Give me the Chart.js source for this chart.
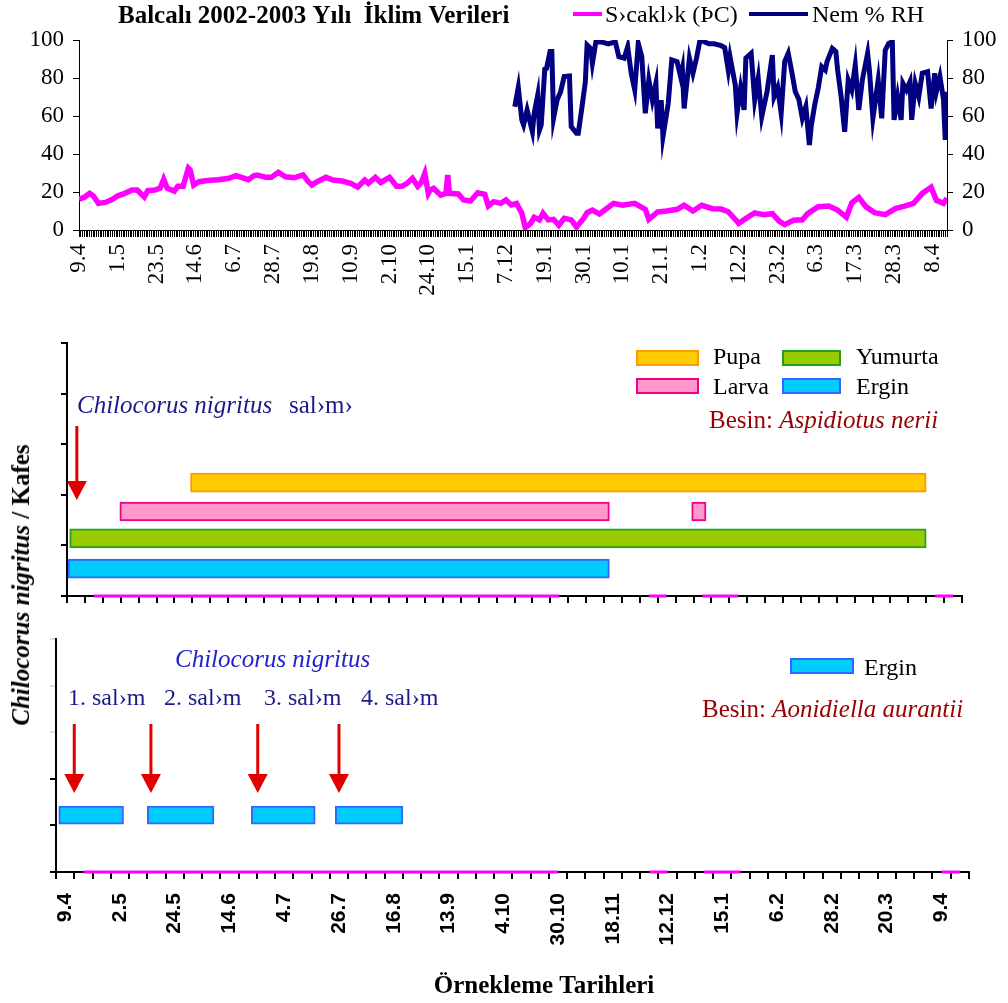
<!DOCTYPE html>
<html>
<head>
<meta charset="utf-8">
<script src="https://cdn.jsdelivr.net/npm/chart.js@4.4.1/dist/chart.umd.min.js"></script>
<style>
  html, body { margin: 0; padding: 0; background: #fff; }
  #page { position: relative; width: 1008px; height: 1003px; overflow: hidden; }
  canvas { position: absolute; left: 0; }
  #climate { top: 0; }
  #nerii { top: 320px; }
  #aurantii { top: 610px; }
  #yTitle {
    position: absolute; left: 21px; top: 585px;
    transform: translate(-50%, -50%) rotate(-90deg);
    font: bold 25px 'Liberation Serif'; white-space: nowrap; color: #000;
  }
</style>
</head>
<body>
<div id="page">
  <canvas id="climate" width="1008" height="300"></canvas>
  <canvas id="nerii" width="1008" height="290"></canvas>
  <canvas id="aurantii" width="1008" height="393"></canvas>
  <div id="yTitle"><i>Chilocorus nigritus</i> / Kafes</div>
</div>
<script>
// iklim verileri: gün sırası 9.4.2002'den itibaren
const climateLabels = ['9.4', '1.5', '23.5', '14.6', '6.7', '28.7', '19.8', '10.9', '2.10', '24.10', '15.1',
  '7.12', '19.1', '30.1', '10.1', '21.1', '1.2', '12.2', '23.2', '6.3', '17.3', '28.3', '8.4']
const labelEvery = 22
const lastDay = 492

const tempDays = [0, 3, 6, 8, 11, 15, 19, 22, 26, 30, 33, 37, 39, 43, 46, 48, 50, 54, 56, 59, 62, 63, 65, 68, 73,
  79, 85, 89, 92, 96, 99, 101, 106, 109, 113, 117, 122, 127, 130, 132, 135, 140, 144, 149, 154, 158, 162, 164,
  168, 171, 176, 180, 183, 186, 189, 192, 194, 196, 198, 199, 201, 205, 208, 209, 210, 215, 218, 222, 226, 230,
  232, 235, 239, 242, 245, 248, 251, 253, 256, 258, 261, 263, 266, 269, 272, 275, 279, 282, 286, 288, 291, 295,
  298, 303, 308, 315, 321, 323, 328, 333, 339, 343, 348, 353, 359, 364, 368, 374, 379, 383, 388, 393, 397, 400,
  405, 410, 413, 419, 425, 430, 435, 438, 442, 446, 451, 457, 463, 468, 473, 478, 483, 486, 490, 492]
const tempValues = [16.2, 17.2, 19.3, 18, 14, 14.5, 16.2, 18, 19.3, 21, 21, 17.4, 20.7, 21, 22, 26.7, 22, 20.5, 23,
  23, 32.5, 31.6, 23.6, 25.4, 26, 26.5, 27.2, 28.6, 27.7, 26.5, 28.5, 28.9, 27.7, 27.7, 30.4, 28, 27.5, 29, 25.4,
  23.7, 25.4, 27.7, 26.3, 25.8, 24.6, 22.6, 26.3, 24.6, 27.7, 25, 27.7, 23, 23, 24.6, 27.2, 23, 25, 29.8, 19.3,
  21, 21.9, 18.4, 19.3, 29, 19.3, 19, 15.8, 15.3, 19.6, 18.8, 12.6, 14.9, 14, 15.8, 13.2, 14, 8.8, 1.2, 3.5, 6.7,
  5.3, 8.8, 5.3, 5.6, 2.5, 6.1, 5.3, 1.6, 6.1, 9.1, 10.5, 8.4, 10.5, 14, 13, 14, 10.9, 5.6, 9.5, 10, 10.9, 13, 10,
  13, 11.2, 11, 9.6, 3.5, 6.7, 9, 8.1, 8.6, 4.6, 2.8, 5.1, 5.4, 8.6, 12.3, 12.6, 10.5, 6.7, 14.2, 17.2, 12.3, 9.1,
  8.1, 11.4, 12.6, 14, 19.3, 22.5, 15.6, 14, 16.7]

const humDays = [247, 249, 251, 252, 254, 257, 258, 260, 261, 262, 264, 265, 267, 268, 269, 271, 273, 275, 278,
  279, 282, 283, 285, 287, 288, 290, 291, 293, 296, 300, 304, 306, 309, 311, 313, 315, 317, 319, 321, 323, 325,
  327, 328, 330, 331, 334, 336, 339, 341, 342, 343, 346, 348, 350, 352, 357, 360, 364, 366, 368, 369, 372, 373,
  375, 377, 378, 381, 383, 385, 387, 390, 393, 394, 396, 398, 400, 402, 404, 406, 408, 410, 412, 414, 415, 417,
  419, 421, 423, 424, 427, 429, 430, 432, 434, 436, 438, 440, 442, 444, 447, 448, 450, 453, 455, 457, 459, 461,
  462, 464, 466, 467, 469, 471, 472, 474, 476, 478, 481, 483, 485, 486, 488, 490, 491, 492]
const humValues = [64.9, 75.1, 57.9, 55.3, 63.2, 51.7, 61.4, 71, 52.6, 55.3, 84.6, 85, 93.9, 93.9, 58.8, 68.4,
  72.8, 80.7, 81, 54.4, 50.9, 50.9, 64, 78, 97.4, 95.6, 87.7, 99.1, 99, 98, 99, 91.2, 90.4, 96.5, 82.5, 73.7,
  98.2, 91.2, 61.4, 78.9, 68.4, 77.2, 53.5, 68.4, 49.1, 66.7, 89.5, 88.6, 80.7, 85, 64, 90.4, 82.5, 90.4, 100, 98,
  98, 97, 96, 84.2, 91.2, 76.3, 61.4, 74.6, 63.2, 90.4, 93, 68.4, 79.8, 59.6, 72.8, 92.1, 70.2, 75, 61.4, 88.6,
  93, 83.3, 72.8, 68.8, 58.8, 64.9, 44.7, 54.4, 65.8, 74.6, 86, 84.2, 88.6, 95.6, 94, 84.2, 70.2, 51.7, 78.9,
  73.7, 86.8, 63.2, 78.9, 93, 84.2, 58.8, 78.9, 58.8, 94.7, 98.2, 99.1, 57.9, 70.2, 58, 77.2, 73.7, 78, 58, 77.2,
  70.2, 82.5, 83.3, 64, 82.5, 72.8, 80.7, 68.8, 47.4, 72.8]

// kafes gözlemleri: 50 örnekleme tarihi
const sampleLabels = ['9.4', '2.5', '24.5', '14.6', '4.7', '26.7', '16.8', '13.9', '4.10', '30.10', '18.11',
  '12.12', '15.1', '6.2', '28.2', '20.3', '9.4']
const sampleCount = 50
const sampleRecorded = [null,
  0, 0, 0, 0, 0, 0, 0, 0, 0, 0, 0, 0, 0, 0, 0, 0, 0, 0, 0, 0, 0, 0, 0, 0, 0, 0, 0,
  null, null, null, null, 0, 0, null, 0, 0, 0,
  null, null, null, null, null, null, null, null, null, null, 0, 0]

const stageNames = ['Pupa', 'Larva', 'Yumurta', 'Ergin']
const stageLevels = [2.24, 1.67, 1.14, 0.54]
const neriiPeriods = [
  [[6.9, 48]],
  [[2.95, 30.3], [34.9, 35.7]],
  [[0.15, 48]],
  [[0, 30.3]],
]
const neriiRelease = 0.55

const aurantiiLevel = 1.22
const aurantiiErgin = [[0.15, 3.7], [5, 8.65], [10.7, 14.2], [15.3, 19]]
const aurantiiReleases = [1, 5.2, 11.05, 15.5]

const serif = 'Liberation Serif'
const stageColors = [
  { fill: '#FFCC00', line: '#FF9900' },
  { fill: '#FF99CC', line: '#EE0088' },
  { fill: '#99CC00', line: '#22A022' },
  { fill: '#00CCFF', line: '#3366FF' },
]

Chart.defaults.font.family = serif
Chart.defaults.color = '#000'

function drawArrow(ctx, x, top, tip) {
  ctx.strokeStyle = '#E00000'
  ctx.fillStyle = '#E00000'
  ctx.lineWidth = 3
  ctx.beginPath()
  ctx.moveTo(x, top)
  ctx.lineTo(x, tip - 18)
  ctx.stroke()
  ctx.beginPath()
  ctx.moveTo(x - 10, tip - 19)
  ctx.lineTo(x + 10, tip - 19)
  ctx.lineTo(x, tip)
  ctx.closePath()
  ctx.fill()
}

function drawBox(ctx, x, y, w, h, color) {
  ctx.fillStyle = color.fill
  ctx.fillRect(x, y, w, h)
  ctx.strokeStyle = color.line
  ctx.lineWidth = 2
  ctx.strokeRect(x, y, w, h)
}

function drawBesin(ctx, x, y, species) {
  ctx.fillStyle = '#990000'
  ctx.font = `25px "${serif}"`
  ctx.fillText('Besin: ', x, y)
  const w = ctx.measureText('Besin: ').width
  ctx.font = `italic 25px "${serif}"`
  ctx.fillText(species, x + w, y)
}

const toPoints = (days, values) => days.map((d, i) => ({ x: d, y: values[i] }))

// ---- iklim grafiği ----
const climateHeader = {
  id: 'climateHeader',
  afterDraw(chart) {
    const ctx = chart.ctx
    ctx.save()
    ctx.fillStyle = '#000'
    ctx.font = `bold 25px "${serif}"`
    ctx.fillText('Balcalı 2002-2003 Yılı  İklim Verileri', 118, 23)
    const keys = [[573, 602, 605], [749, 808, 812]]
    chart.data.datasets.forEach((ds, i) => {
      const [x0, x1, tx] = keys[i]
      ctx.strokeStyle = ds.borderColor
      ctx.lineWidth = 4
      ctx.beginPath()
      ctx.moveTo(x0, 14)
      ctx.lineTo(x1, 14)
      ctx.stroke()
      ctx.fillStyle = '#000'
      ctx.font = `24px "${serif}"`
      ctx.fillText(ds.label, tx, 22)
    })
    ctx.restore()
  },
}

const valueAxis = (position, width) => ({
  position,
  min: 0,
  max: 100,
  afterFit: (s) => { s.width = width },
  ticks: { stepSize: 20, font: { size: 23 }, padding: 9 },
  grid: { drawOnChartArea: false, tickLength: 6, color: '#000' },
  border: { color: '#000' },
})

new Chart(document.getElementById('climate'), {
  type: 'line',
  data: {
    datasets: [
      { label: 'S›cakl›k (ÞC)', data: toPoints(tempDays, tempValues), borderColor: '#FF00FF',
        borderWidth: 5.5, pointRadius: 0, yAxisID: 'y' },
      { label: 'Nem % RH', data: toPoints(humDays, humValues), borderColor: '#000080',
        borderWidth: 5, pointRadius: 0, yAxisID: 'y2' },
    ],
  },
  options: {
    responsive: false,
    animation: false,
    devicePixelRatio: 1,
    layout: { padding: { top: 40, left: 0, right: 0, bottom: 0 } },
    plugins: { legend: { display: false }, tooltip: { enabled: false } },
    scales: {
      x: {
        type: 'linear',
        min: 0,
        max: lastDay,
        afterFit: (s) => { s.height = 70 },
        ticks: {
          stepSize: 1,
          autoSkip: false,
          minRotation: 90,
          maxRotation: 90,
          padding: 7,
          font: { size: 23 },
          callback: (v) => (v % labelEvery === 0 ? climateLabels[v / labelEvery] : ''),
        },
        grid: { drawOnChartArea: false, tickLength: 7, color: '#000' },
        border: { color: '#000' },
      },
      y: valueAxis('left', 79),
      y2: valueAxis('right', 61),
    },
  },
  plugins: [climateHeader],
})

// ---- kafes grafikleri ----
const zeroLine = {
  type: 'line',
  indexAxis: 'x',
  data: sampleRecorded.map((v, i) => ({ x: i + 0.5, y: v })),
  borderColor: '#FF00FF',
  borderWidth: 3,
  pointRadius: 0,
  spanGaps: false,
  clip: false,
}

const stageBars = (periods, level, color, label) => ({
  type: 'bar',
  label,
  indexAxis: 'y',
  grouped: false,
  barThickness: 19,
  data: periods.map((p) => ({ x: p, y: level })),
  backgroundColor: color.fill,
  borderColor: color.line,
  borderWidth: 2,
  borderSkipped: false,
})

function cageScales(width, height, labelled, yTickColor) {
  return {
    x: {
      type: 'linear',
      offset: false,
      min: 0,
      max: sampleCount,
      afterFit: (s) => { s.height = height },
      afterBuildTicks: (s) => {
        const ticks = []
        for (let i = 0; i <= sampleCount; i++) ticks.push({ value: i })
        if (labelled) sampleLabels.forEach((l, k) => ticks.push({ value: 0.5 + 3 * k }))
        s.ticks = ticks.sort((a, b) => a.value - b.value)
      },
      ticks: {
        display: labelled,
        autoSkip: false,
        minRotation: 90,
        maxRotation: 90,
        padding: 14,
        font: { family: 'Liberation Sans', size: 21, weight: 'bold' },
        callback: (v) => (Number.isInteger(v) ? '' : sampleLabels[Math.round((v - 0.5) / 3)]),
      },
      grid: {
        offset: false,
        drawOnChartArea: false,
        tickLength: 7,
        lineWidth: 2,
        color: (c) => (c.tick && Number.isInteger(c.tick.value) ? '#000' : 'rgba(0,0,0,0)'),
      },
      border: { color: '#000', width: 2 },
    },
    y: {
      type: 'linear',
      offset: false,
      min: 0,
      max: 5,
      afterFit: (s) => { s.width = width },
      ticks: { stepSize: 1, display: false },
      grid: { offset: false, drawOnChartArea: false, tickLength: 6, lineWidth: 2, color: yTickColor },
      border: { color: '#000', width: 2 },
    },
  }
}

const neriiNotes = {
  id: 'neriiNotes',
  afterDraw(chart) {
    const ctx = chart.ctx
    ctx.save()
    ctx.fillStyle = '#1A1A8C'
    ctx.font = `italic 25px "${serif}"`
    ctx.fillText('Chilocorus nigritus', 77, 93)
    ctx.font = `25px "${serif}"`
    ctx.fillText('sal›m›', 289, 93)
    drawArrow(ctx, chart.scales.x.getPixelForValue(neriiRelease), 106, 180)

    // lejant: iki sütun
    const cols = [[637, 61, 713], [783, 57, 856]]
    const rows = [[31, 44], [59, 74]]
    stageNames.forEach((name, i) => {
      const [bx, bw, tx] = cols[Math.floor(i / 2)]
      const [by, ty] = rows[i % 2]
      drawBox(ctx, bx, by, bw, 14, stageColors[i])
      ctx.fillStyle = '#000'
      ctx.font = `24px "${serif}"`
      ctx.fillText(name, tx, ty)
    })
    drawBesin(ctx, 709, 108, 'Aspidiotus nerii')
    ctx.restore()
  },
}

new Chart(document.getElementById('nerii'), {
  type: 'bar',
  data: {
    datasets: [
      ...stageNames.map((n, i) => stageBars(neriiPeriods[i], stageLevels[i], stageColors[i], n)),
      zeroLine,
    ],
  },
  options: {
    responsive: false,
    animation: false,
    devicePixelRatio: 1,
    layout: { padding: { top: 23, right: 46, left: 0, bottom: 0 } },
    plugins: { legend: { display: false }, tooltip: { enabled: false } },
    scales: cageScales(67, 14, false, '#000'),
  },
  plugins: [neriiNotes],
})

const aurantiiNotes = {
  id: 'aurantiiNotes',
  afterDraw(chart) {
    const ctx = chart.ctx
    ctx.save()
    ctx.fillStyle = '#2222CC'
    ctx.font = `italic 25px "${serif}"`
    ctx.fillText('Chilocorus nigritus', 175, 57)
    ctx.font = `24px "${serif}"`
    const textX = [68, 164, 264, 361]
    aurantiiReleases.forEach((r, i) => {
      ctx.fillStyle = '#1A1A8C'
      ctx.fillText(`${i + 1}. sal›m`, textX[i], 95)
      drawArrow(ctx, chart.scales.x.getPixelForValue(r), 114, 183)
    })
    drawBox(ctx, 791, 49, 62, 14, stageColors[3])
    ctx.fillStyle = '#000'
    ctx.fillText('Ergin', 864, 65)
    drawBesin(ctx, 702, 107, 'Aonidiella aurantii')
    ctx.fillStyle = '#000'
    ctx.font = `bold 25px "${serif}"`
    ctx.textAlign = 'center'
    ctx.fillText('Örnekleme Tarihleri', 544, 383)
    ctx.restore()
  },
}

new Chart(document.getElementById('aurantii'), {
  type: 'bar',
  data: {
    datasets: [
      { ...stageBars(aurantiiErgin, aurantiiLevel, stageColors[3], 'Ergin'), barThickness: 18 },
      zeroLine,
    ],
  },
  options: {
    responsive: false,
    animation: false,
    devicePixelRatio: 1,
    layout: { padding: { top: 29, right: 38, left: 0, bottom: 0 } },
    plugins: { legend: { display: false }, tooltip: { enabled: false } },
    scales: cageScales(56, 131, true, (c) => (c.tick && c.tick.value > 2 ? '#DDD' : '#000')),
  },
  plugins: [aurantiiNotes],
})
</script>
</body>
</html>
